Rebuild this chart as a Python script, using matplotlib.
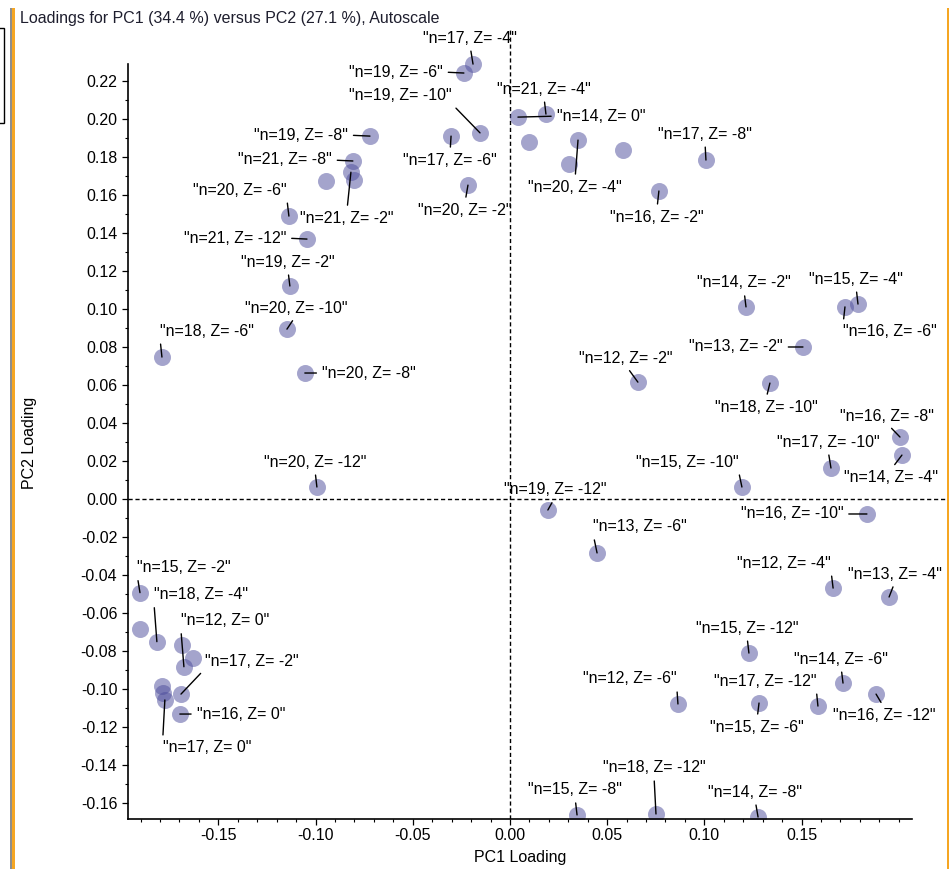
import numpy as np
import matplotlib
matplotlib.use("Agg")
import matplotlib.pyplot as plt
from matplotlib.patches import Rectangle
from matplotlib.ticker import FormatStrFormatter

plt.rcParams['font.family'] = ['Liberation Sans', 'DejaVu Sans']
plt.rcParams['font.size'] = 11.5

# PC1 / PC2 loadings per variable (n = carbon number, Z = hydrogen deficiency)
names = [
    "n=17, Z= -4", "n=19, Z= -6", "n=19, Z= -10", "n=19, Z= -8", "n=17, Z= -6",
    "n=21, Z= -8", "n=21, Z= -2", "", "", "n=20, Z= -6",
    "n=21, Z= -12", "n=19, Z= -2", "n=20, Z= -10", "n=18, Z= -6", "n=20, Z= -8",
    "n=20, Z= -12", "n=20, Z= -2", "n=14, Z= 0", "n=21, Z= -4", "",
    "n=20, Z= -4", "", "", "n=17, Z= -8", "n=16, Z= -2",
    "n=14, Z= -2", "n=16, Z= -6", "n=15, Z= -4", "n=13, Z= -2", "n=12, Z= -2",
    "n=18, Z= -10", "n=16, Z= -8", "n=14, Z= -4", "n=17, Z= -10", "n=15, Z= -10",
    "n=19, Z= -12", "n=16, Z= -10", "n=13, Z= -6", "n=12, Z= -4", "n=13, Z= -4",
    "n=15, Z= -12", "n=14, Z= -6", "n=16, Z= -12", "n=12, Z= -6", "n=15, Z= -6",
    "n=17, Z= -12", "n=15, Z= -8", "n=18, Z= -12", "n=14, Z= -8", "n=15, Z= -2",
    "", "n=18, Z= -4", "", "n=12, Z= 0", "",
    "", "", "n=17, Z= 0", "n=17, Z= -2", "n=16, Z= 0",
]
pc1 = [
    -0.0190, -0.0237, -0.0154, -0.0720, -0.0303,
    -0.0808, -0.0818, -0.0802, -0.0947, -0.1137,
    -0.1044, -0.1132, -0.1147, -0.1790, -0.1055,
    -0.0993, -0.0216, 0.0041, 0.0185, 0.0098,
    0.0350, 0.0304, 0.0581, 0.1008, 0.0766,
    0.1214, 0.1723, 0.1790, 0.1507, 0.0658,
    0.1337, 0.2006, 0.2016, 0.1651, 0.1193,
    0.0195, 0.1836, 0.0448, 0.1662, 0.1950,
    0.1229, 0.1713, 0.1883, 0.0864, 0.1281,
    0.1584, 0.0345, 0.0751, 0.1276, -0.1903,
    -0.1903, -0.1816, -0.1687, -0.1677, -0.1631,
    -0.1790, -0.1785, -0.1775, -0.1692, -0.1698,
]
pc2 = [
    0.2291, 0.2244, 0.1929, 0.1912, 0.1912,
    0.1781, 0.1722, 0.1681, 0.1675, 0.1491,
    0.1370, 0.1123, 0.0896, 0.0749, 0.0665,
    0.0065, 0.1654, 0.2012, 0.2028, 0.1880,
    0.1891, 0.1765, 0.1839, 0.1786, 0.1623,
    0.1013, 0.1013, 0.1028, 0.0802, 0.0617,
    0.0612, 0.0328, 0.0233, 0.0165, 0.0065,
    -0.0056, -0.0077, -0.0282, -0.0467, -0.0514,
    -0.0809, -0.0967, -0.1025, -0.1077, -0.1072,
    -0.1088, -0.1661, -0.1656, -0.1672, -0.0491,
    -0.0681, -0.0749, -0.0765, -0.0881, -0.0835,
    -0.0983, -0.1019, -0.1056, -0.1025, -0.1130,
]

# where each label sits relative to its point, in pixels (right, up)
label_offsets = [
    (-3, 26), (-68, 1), (-80, 37), (-69, 1), (-1, -24),
    (-68, 1), (-4, -46), None, None, (-49, 26),
    (-72, 1), (-2, 24), (9, 21), (45, 26), (64, 0),
    (-2, 25), (-3, -25), (83, 1), (-2, 25), None,
    (-3, -47), None, None, (-1, 26), (-2, -26),
    (-2, 24), (45, -25), (-2, 25), (-67, 0), (-12, 24),
    (-4, -24), (-13, 21), (-11, -22), (-3, 26), (-55, 25),
    (7, 20), (-75, 0), (43, 26), (-49, 25), (6, 23),
    (-2, 25), (-2, 24), (8, -21), (-48, 25), (-2, -24),
    (-53, 25), (-2, 25), (-2, 46), (-3, 25), (44, 25),
    None, (44, 47), None, (41, 46), None,
    None, None, (42, -48), (71, 33), (61, 0),
]


def leader_relpos(dx, dy):
    # start the leader from the side / corner of the label facing the point
    rx = 0.5 if abs(dx) < 25 else (1.0 if dx < 0 else 0.0)
    ry = 0.5 if abs(dy) < 12 else (0.0 if dy > 0 else 1.0)
    return rx, ry


W, H = 950, 869
fig = plt.figure(figsize=(W / 100, H / 100), dpi=100)
fig.patch.set_facecolor('white')

# window frame bits
fig.add_artist(Rectangle((10 / W, 0), 2 / W, 1 - 8 / H, transform=fig.transFigure, color='#8e8e8e', lw=0))
fig.add_artist(Rectangle((12 / W, 0), 3 / W, 1 - 8 / H, transform=fig.transFigure, color='#f5a623', lw=0))
fig.add_artist(Rectangle((947 / W, 0), 2 / W, 1 - 8 / H, transform=fig.transFigure, color='#f5a623', lw=0))
fig.add_artist(Rectangle((-2 / W, 1 - 123 / H), 6 / W, 95 / H, transform=fig.transFigure,
                         fill=False, ec='black', lw=1))

fig.text(20 / W, 1 - 23.5 / H, 'Loadings for PC1 (34.4 %) versus PC2 (27.1 %), Autoscale',
         ha='left', va='baseline', color='#1e1e2e')

ax = fig.add_axes([128.3 / W, 1 - 819.3 / H, (948 - 128.3) / W, (819.3 - 28) / H])
ax.set_xlim(-0.1963, 0.2253)
ax.set_ylim(-0.1684, 0.2481)

ax.spines['top'].set_visible(False)
ax.spines['right'].set_visible(False)
ax.spines['left'].set_bounds(-0.1684, 0.229)
ax.spines['bottom'].set_bounds(-0.1963, 0.2066)
for s in ('left', 'bottom'):
    ax.spines[s].set_linewidth(1.2)

ax.set_xticks(np.round(np.arange(-0.15, 0.151, 0.05), 2) + 0.0)
ax.set_xticks(np.round(np.arange(-0.19, 0.2001, 0.01), 2) + 0.0, minor=True)
ax.set_yticks(np.round(np.arange(-0.16, 0.2201, 0.02), 2) + 0.0)
ax.set_yticks(np.round(np.arange(-0.16, 0.2201, 0.01), 2) + 0.0, minor=True)
ax.xaxis.set_major_formatter(FormatStrFormatter('%.2f'))
ax.yaxis.set_major_formatter(FormatStrFormatter('%.2f'))
ax.tick_params(which='major', length=4.3, width=0.9)
ax.tick_params(which='minor', length=2.2, width=0.8)
ax.tick_params(axis='y', which='major', pad=3.6)
ax.tick_params(axis='x', which='major', pad=2)

ax.axhline(0, color='black', lw=1, ls=(0, (3, 2)), zorder=1)
ax.axvline(0, color='black', lw=1, ls=(0, (3, 2)), zorder=1)

ax.scatter(pc1, pc2, s=150, color='#4b4b9b', alpha=0.5, linewidths=0, zorder=2)

for name, x, y, off in zip(names, pc1, pc2, label_offsets):
    if not name or off is None:
        continue
    ax.annotate('"' + name + '"', (x, y), xytext=off, textcoords='offset pixels',
                ha='center', va='center', annotation_clip=False, zorder=3,
                arrowprops=dict(arrowstyle='-', color='black', lw=1.0,
                                shrinkA=2, shrinkB=0, relpos=leader_relpos(*off)))

ax.set_xlabel('PC1 Loading')
ax.set_ylabel('PC2 Loading')
ax.xaxis.set_label_coords((520 - 128.3) / 819.7, (819.3 - 850) / 791.3)
ax.xaxis.label.set_va('top')
ax.yaxis.set_label_coords((37 - 128.3) / 819.7, (819.3 - 443) / 791.3)

fig.savefig('out.png', dpi=100)
